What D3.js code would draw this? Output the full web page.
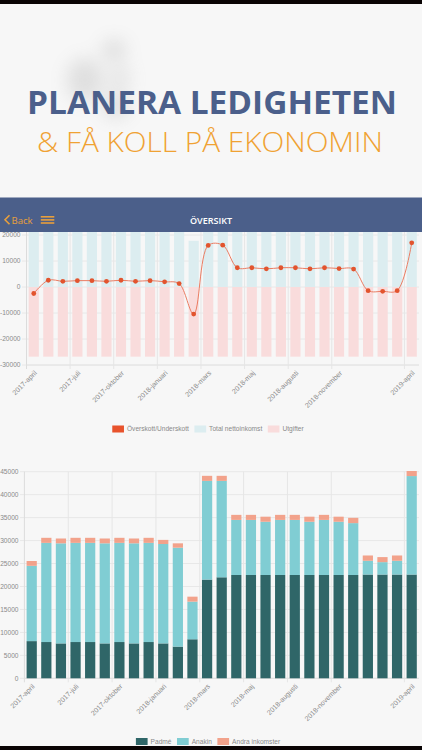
<!DOCTYPE html>
<html><head><meta charset="utf-8">
<script src="https://cdn.jsdelivr.net/npm/d3@7"></script>
<style>html,body{margin:0;padding:0;background:#f7f7f7;}svg{display:block;}</style>
</head><body>
<svg id="c" width="422" height="750"></svg>
<script>
// ---------- DATA ----------
const categories = ["2017-april","2017-maj","2017-juni","2017-juli","2017-augusti","2017-september","2017-oktober","2017-november","2017-december","2018-januari","2018-februari","2018-februari","2018-mars","2018-april","2018-april","2018-maj","2018-juni","2018-juli","2018-augusti","2018-september","2018-oktober","2018-november","2018-december","2019-januari","2019-februari","2019-mars","2019-april"];
const tickIndex = [0,3,6,9,12,15,18,21,26];
// Chart 1
const overskott = [-2500,2600,2200,2450,2450,2200,2600,2200,2450,2000,1300,-10400,16000,16100,7400,7400,7000,7400,7400,7000,7400,7100,6900,-1400,-1650,-1400,17000];
const utgifter = Array(27).fill(-26800);
const y1Ticks = [20000,10000,0,-10000,-20000,-30000];
// Chart 2
const padme  = [8100,7900,7600,7900,7900,7600,7900,7600,7900,7600,6900,8500,21500,22000,22500,22500,22500,22500,22500,22500,22500,22500,22500,22600,22600,22600,22600];
const anakin = [16400,21600,21800,21600,21600,21800,21600,21800,21600,21650,21550,8200,21500,21000,12000,12000,11600,12000,12000,11600,12000,11600,11300,3000,2700,3000,21450];
const andra  = [1050,1100,1050,1100,1100,1050,1100,1050,1100,900,950,1080,1100,1100,1100,1100,1100,1100,1100,1100,1100,1100,1150,1150,1100,1150,1100];
const totalInkomst = padme.map((p,i)=>p+anakin[i]+andra[i]);
const y2Ticks = [45000,40000,35000,30000,25000,20000,15000,10000,5000,0];

const FONT = "'Liberation Sans', Arial, sans-serif";
const svg = d3.select("#c");
const n = categories.length;
const idx = d3.range(n);

svg.append("rect").attr("width",422).attr("height",750).attr("fill","#f7f7f7");

// blurred background blob
const defs = svg.append("defs");
defs.append("filter").attr("id","blur").attr("x","-80%").attr("y","-80%").attr("width","260%").attr("height","260%")
  .append("feGaussianBlur").attr("stdDeviation",9);
const blob = svg.append("g").attr("filter","url(#blur)").attr("opacity",0.22);
blob.append("ellipse").attr("cx",114).attr("cy",50).attr("rx",12).attr("ry",10).attr("fill","#7a7a7a");
blob.append("ellipse").attr("cx",85).attr("cy",80).attr("rx",18).attr("ry",22).attr("fill","#8a8a8a");
blob.append("ellipse").attr("cx",116).attr("cy",106).attr("rx",13).attr("ry",12).attr("fill","#7f7f7f");
blob.append("ellipse").attr("cx",120).attr("cy",78).attr("rx",10).attr("ry",14).attr("fill","#a0a0a0");

// Titles
svg.append("text").attr("x",212).attr("y",114.3).attr("text-anchor","middle")
  .attr("font-family","'Open Sans', sans-serif").attr("font-weight",700).attr("font-size",33)
  .attr("fill","#4b5f8b").attr("textLength",370).attr("lengthAdjust","spacingAndGlyphs")
  .text("PLANERA LEDIGHETEN");
svg.append("text").attr("x",210).attr("y",151.7).attr("text-anchor","middle")
  .attr("font-family","'Open Sans', sans-serif").attr("font-weight",300).attr("font-size",28)
  .attr("fill","#f0a233").attr("textLength",346).attr("lengthAdjust","spacingAndGlyphs")
  .text("& FÅ KOLL PÅ EKONOMIN");

// ---------- Helper for category axis ----------
function catAxis(g, x, yTop, yBottom, labelColor) {
  const gl = g.append("g");
  tickIndex.forEach(i => {
    if (i === 0) return;
    gl.append("line").attr("x1",x(i)).attr("x2",x(i)).attr("y1",yTop).attr("y2",yBottom+4)
      .attr("stroke","#e6e6e6").attr("stroke-width",1);
  });
  gl.append("line").attr("x1",x(0)).attr("x2",x(0)).attr("y1",yBottom).attr("y2",yBottom+4).attr("stroke","#ddd");
  tickIndex.forEach(i => {
    const cx = x(i) + x.bandwidth()/2;
    g.append("text").attr("transform",`translate(${cx+2},${yBottom+7}) rotate(-45)`)
      .attr("text-anchor","end").attr("dy","0.3em")
      .attr("font-family",FONT).attr("font-size",7).attr("fill",labelColor)
      .text(categories[i]);
  });
}

// ---------- CHART 1 ----------
const c1 = svg.append("g");
const x1 = d3.scaleBand().domain(idx).range([26.5,419]).padding(0);
const y1 = d3.scaleLinear().domain([-30000,20000]).range([365,235]);
defs.append("clipPath").attr("id","clip1").append("rect").attr("x",26.5).attr("y",232).attr("width",393).attr("height",133);

c1.selectAll("line.hg").data(y1Ticks).join("line")
  .attr("x1",22).attr("x2",419).attr("y1",d=>y1(d)).attr("y2",d=>y1(d))
  .attr("stroke","#e8e8e8");
catAxis(c1, x1, 232, 365, "#8a8a8a");
c1.append("line").attr("x1",26.5).attr("x2",26.5).attr("y1",232).attr("y2",365).attr("stroke","#dcdcdc");
c1.append("line").attr("x1",26.5).attr("x2",419).attr("y1",365).attr("y2",365).attr("stroke","#e4e4e4");
c1.selectAll("text.yl").data(y1Ticks).join("text")
  .attr("x",20.5).attr("y",d=>y1(d)).attr("dy","0.35em").attr("text-anchor","end")
  .attr("font-family",FONT).attr("font-size",6.6).attr("fill","#8a8a8a").text(d=>d);

const bw1 = x1.bandwidth()*0.7, off1 = x1.bandwidth()*0.15;
const bars1 = c1.append("g").attr("clip-path","url(#clip1)");
bars1.selectAll("rect.inc").data(idx).join("rect")
  .attr("x",i=>x1(i)+off1).attr("width",bw1)
  .attr("y",i=>y1(totalInkomst[i])).attr("height",i=>y1(0)-y1(totalInkomst[i]))
  .attr("fill","#dcedf0");
bars1.selectAll("rect.exp").data(idx).join("rect")
  .attr("x",i=>x1(i)+off1).attr("width",bw1)
  .attr("y",y1(0)).attr("height",i=>y1(utgifter[i])-y1(0))
  .attr("fill","#f9dcdc");
const line1 = d3.line().x(i=>x1(i)+x1.bandwidth()/2).y(i=>y1(overskott[i])).curve(d3.curveCatmullRom.alpha(0.5));
bars1.append("path").datum(idx).attr("d",line1).attr("fill","none").attr("stroke","#ea7c62").attr("stroke-width",1);
bars1.selectAll("circle").data(idx).join("circle")
  .attr("cx",i=>x1(i)+x1.bandwidth()/2).attr("cy",i=>y1(overskott[i])).attr("r",2.4).attr("fill","#e2542e");

// ---------- HEADER ----------
const hd = svg.append("g");
hd.append("rect").attr("x",0).attr("y",197.5).attr("width",422).attr("height",34.5).attr("fill","#4b5f8a");
hd.append("path").attr("d","M9.5,215.2 L5,219.7 L9.5,224.2").attr("fill","none").attr("stroke","#e89f3c").attr("stroke-width",1.6);
hd.append("text").attr("x",11.5).attr("y",223.8).attr("font-family","'Open Sans', sans-serif").attr("font-size",9.6).attr("fill","#e89f3c").text("Back");
[216.8,219.9,223].forEach(y=>hd.append("rect").attr("x",40.8).attr("y",y-0.8).attr("width",13.5).attr("height",1.6).attr("fill","#e89f3c"));
hd.append("text").attr("x",211).attr("y",223.6).attr("text-anchor","middle").attr("font-family","'Open Sans', sans-serif")
  .attr("font-weight",600).attr("font-size",9).attr("fill","#ffffff").text("ÖVERSIKT");

// ---------- LEGEND helper ----------
function legend(items, cy, centerX) {
  const g = svg.append("g");
  let x = 0;
  const parts = [];
  items.forEach(it => {
    const r = g.append("rect").attr("y",cy-3.5).attr("width",11.7).attr("height",7).attr("fill",it.color);
    const t = g.append("text").attr("y",cy).attr("dy","0.35em").attr("font-family",FONT).attr("font-size",6.6).attr("fill","#8a8a8a").text(it.label);
    parts.push({r,t});
  });
  parts.forEach(p => {
    p.r.attr("x",x); x += 11.7 + 3;
    p.t.attr("x",x); x += p.t.node().getComputedTextLength() + 5.5;
  });
  x -= 5.5;
  g.attr("transform",`translate(${centerX - x/2},0)`);
}
legend([{label:"Överskott/Underskott",color:"#e8532c"},{label:"Total nettoinkomst",color:"#dcedf0"},{label:"Utgifter",color:"#f9dcdc"}], 429, 208);

// ---------- CHART 2 ----------
const c2 = svg.append("g");
const x2 = d3.scaleBand().domain(idx).range([24.4,419]).padding(0);
const y2 = d3.scaleLinear().domain([0,45000]).range([678.3,471.7]);
c2.selectAll("line.hg").data(y2Ticks).join("line")
  .attr("x1",20).attr("x2",419).attr("y1",d=>y2(d)).attr("y2",d=>y2(d)).attr("stroke","#e8e8e8");
catAxis(c2, x2, 471.7, 678.3, "#8a8a8a");
c2.append("line").attr("x1",24.4).attr("x2",24.4).attr("y1",471.7).attr("y2",678.3).attr("stroke","#dcdcdc");
c2.append("line").attr("x1",24.4).attr("x2",419).attr("y1",678.3).attr("y2",678.3).attr("stroke","#e0e0e0");
c2.selectAll("text.yl").data(y2Ticks).join("text")
  .attr("x",18.5).attr("y",d=>y2(d)).attr("dy","0.35em").attr("text-anchor","end")
  .attr("font-family",FONT).attr("font-size",6.6).attr("fill","#8a8a8a").text(d=>d);

const rows = idx.map(i=>({padme:padme[i],anakin:anakin[i],andra:andra[i],i}));
const stack = d3.stack().keys(["padme","anakin","andra"])(rows);
const colors2 = {padme:"#2f6668",anakin:"#80cdd3",andra:"#f2a28b"};
const bw2 = x2.bandwidth()*0.7, off2 = x2.bandwidth()*0.15;
c2.selectAll("g.s").data(stack).join("g").attr("fill",d=>colors2[d.key])
  .selectAll("rect").data(d=>d).join("rect")
  .attr("x",d=>x2(d.data.i)+off2).attr("width",bw2)
  .attr("y",d=>y2(d[1])).attr("height",d=>y2(d[0])-y2(d[1]));

legend([{label:"Padmé",color:"#2f6668"},{label:"Anakin",color:"#80cdd3"},{label:"Andra inkomster",color:"#f2a28b"}], 741.5, 208);

// black phone bars
svg.append("rect").attr("x",0).attr("y",0).attr("width",422).attr("height",4).attr("fill","#0a0404");
svg.append("rect").attr("x",0).attr("y",746).attr("width",422).attr("height",4).attr("fill","#0a0404");
</script>
</body></html>
